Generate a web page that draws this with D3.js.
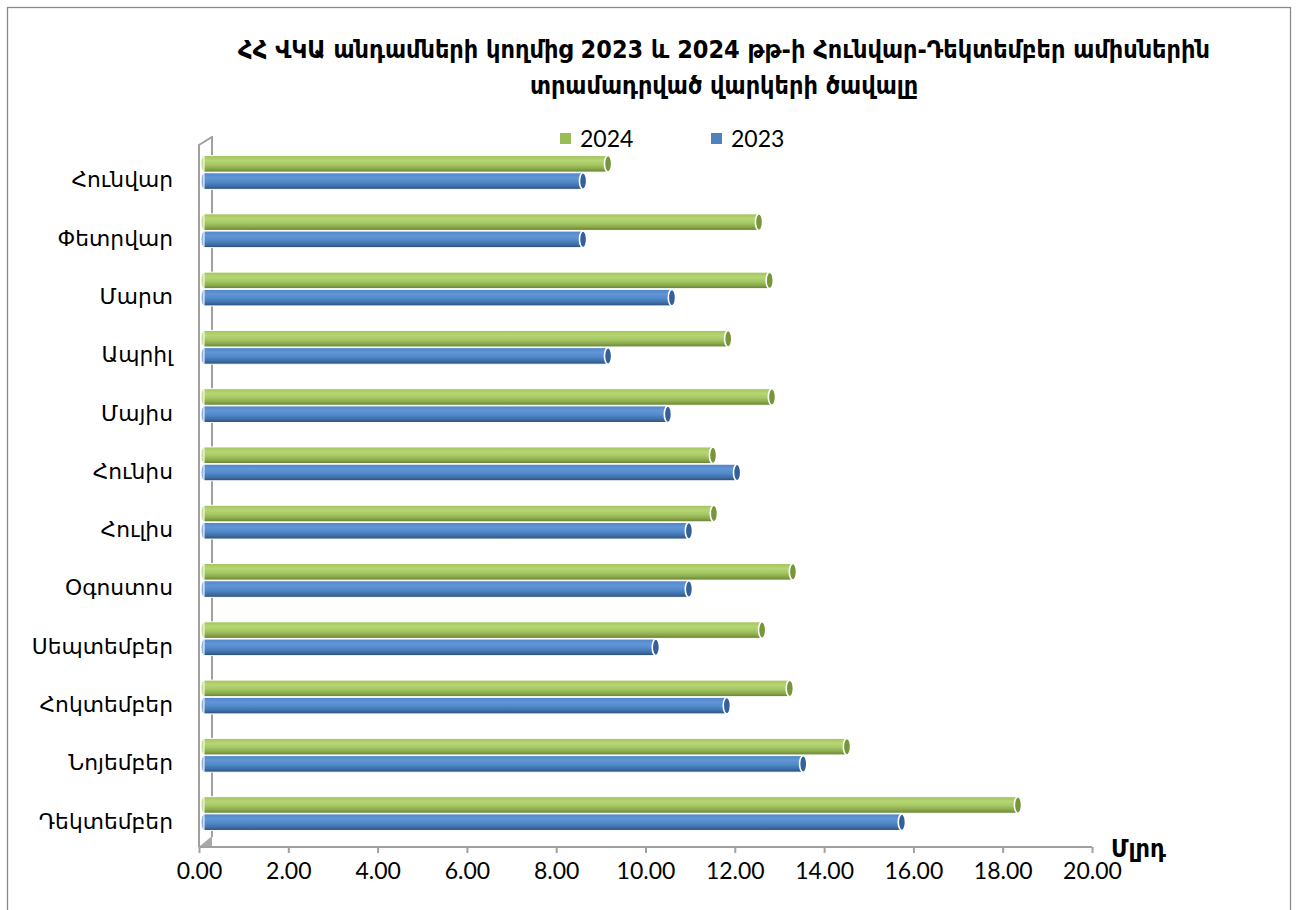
<!DOCTYPE html>
<html>
<head>
<meta charset="utf-8">
<script src="https://cdn.jsdelivr.net/npm/d3@7/dist/d3.min.js"></script>
<style>
  html, body { margin: 0; padding: 0; background: #fff; }
  svg { display: block; }
</style>
</head>
<body>
<svg id="chart" width="1296" height="910"></svg>
<script>
const months = ["Հունվար","Փետրվար","Մարտ","Ապրիլ","Մայիս","Հունիս","Հուլիս","Օգոստոս","Սեպտեմբեր","Հոկտեմբեր","Նոյեմբեր","Դեկտեմբեր"];
const series = ["2024","2023"];
const values2024 = [9.05, 12.43, 12.67, 11.74, 12.72, 11.40, 11.42, 13.19, 12.50, 13.12, 14.40, 18.23];
const values2023 = [8.49, 8.49, 10.48, 9.05, 10.39, 11.94, 10.86, 10.86, 10.12, 11.71, 13.42, 15.63];
const xTicks = [0, 2, 4, 6, 8, 10, 12, 14, 16, 18, 20];
const titleLines = ["ՀՀ ՎԿԱ անդամների կողմից 2023 և 2024 թթ-ի Հունվար-Դեկտեմբեր ամիսներին", "տրամադրված վարկերի ծավալը"];
const unitLabel = "Մլրդ";

const svg = d3.select("#chart");

// frame
svg.append("rect").attr("x", 7.5).attr("y", 7.5).attr("width", 1283).attr("height", 1000)
  .attr("fill", "none").attr("stroke", "#8a8a8a").attr("stroke-width", 1.3);

const x = d3.scaleLinear().domain([0, 20]).range([199, 1092]);
const depth = 5; // bars sit slightly behind the front axis
const y = d3.scaleBand().domain(months).range([143.3, 842.7]).paddingInner(0.42).paddingOuter(0.21);
const yi = d3.scaleBand().domain(series).range([0, y.bandwidth()]).paddingInner(0.04);

const colors = {
  "2024": { stops: ["#a3c35f", "#b6d673", "#a6c765", "#8aa84b", "#63802f"], cap: "#76963a", start: "#c4dc8e" },
  "2023": { stops: ["#4f86c9", "#6296d6", "#5189c9", "#3f6fa8", "#2b4c78"], cap: "#35609a", start: "#8fb2e0" }
};

const defs = svg.append("defs");
series.forEach(s => {
  const g = defs.append("linearGradient").attr("id", "g" + s)
    .attr("x1", 0).attr("y1", 0).attr("x2", 0).attr("y2", 1);
  const offs = [0, 0.3, 0.55, 0.8, 1];
  colors[s].stops.forEach((c, i) => g.append("stop").attr("offset", offs[i]).attr("stop-color", c));
});

// left wall (3D)
const wall = svg.append("g").attr("stroke", "#a0a0a0").attr("stroke-width", 2).attr("fill", "none");
wall.append("path").attr("d", `M199,847 L199,145 L212,137 L213,137`);
wall.append("path").attr("d", `M212,137 L212,837`);
svg.append("path").attr("d", "M200,846 L212,836 L212,846 Z").attr("fill", "#a8a8a8");

// floor / x axis
const xAxis = d3.axisBottom(x).tickValues(xTicks).tickFormat(d3.format(".2f")).tickSize(6).tickPadding(10);
const ax = svg.append("g").attr("transform", "translate(0,847)").call(xAxis);
ax.select(".domain").attr("stroke", "#a0a0a0").attr("stroke-width", 2).attr("d", "M199,0H1092");
ax.selectAll(".tick line").attr("stroke", "#a0a0a0").attr("stroke-width", 2);
ax.selectAll(".tick text").attr("font-family", "Lato, 'DejaVu Sans', sans-serif").attr("font-size", 23).attr("fill", "#000");

// bars
const data = [];
months.forEach((m, i) => {
  data.push({ m, s: "2024", v: values2024[i] });
  data.push({ m, s: "2023", v: values2023[i] });
});

const bars = svg.append("g").selectAll("g").data(data).join("g")
  .attr("transform", d => `translate(${depth},${y(d.m) + yi(d.s)})`);
const bh = yi.bandwidth();
bars.append("ellipse")
  .attr("cx", x(0)).attr("cy", bh / 2).attr("rx", 3).attr("ry", bh / 2)
  .attr("fill", d => colors[d.s].start).attr("stroke", "#fff").attr("stroke-width", 1);
bars.append("rect")
  .attr("x", x(0)).attr("y", 0)
  .attr("width", d => x(d.v) - x(0)).attr("height", bh)
  .attr("fill", d => `url(#g${d.s})`)
  .attr("stroke", "#ffffff").attr("stroke-width", 1);
bars.append("ellipse")
  .attr("cx", d => x(d.v)).attr("cy", bh / 2).attr("rx", 3.6).attr("ry", bh / 2)
  .attr("fill", d => colors[d.s].cap).attr("stroke", "#ffffff").attr("stroke-width", 1.6);

// category labels
svg.append("g").selectAll("text").data(months).join("text")
  .attr("x", 173).attr("y", d => y(d) + y.bandwidth() / 2 + 15)
  .attr("text-anchor", "end")
  .attr("font-family", "'DejaVu Sans', sans-serif").attr("font-size", 21.8).attr("fill", "#000")
  .text(d => d);

// legend
const legend = svg.append("g");
const legendItems = [{ s: "2024", x: 560 }, { s: "2023", x: 711 }];
legendItems.forEach(it => {
  legend.append("rect").attr("x", it.x).attr("y", 133).attr("width", 11).attr("height", 11)
    .attr("fill", it.s === "2024" ? "#9bbb59" : "#4f81bd");
  legend.append("text").attr("x", it.x + 20).attr("y", 147)
    .attr("font-family", "Lato, 'DejaVu Sans', sans-serif").attr("font-size", 23).attr("fill", "#000")
    .text(it.s);
});

// title
svg.append("g").selectAll("text").data(titleLines).join("text")
  .attr("x", 724).attr("y", (d, i) => 58 + i * 36)
  .attr("text-anchor", "middle")
  .attr("font-family", "'DejaVu Sans Condensed', 'DejaVu Sans', sans-serif")
  .attr("font-weight", "bold").attr("font-size", 25).attr("fill", "#000")
  .text(d => d);

// unit label
svg.append("text").attr("x", 1111).attr("y", 857)
  .attr("font-family", "'DejaVu Sans Condensed', 'DejaVu Sans', sans-serif").attr("font-weight", "bold")
  .attr("font-size", 25).attr("fill", "#000").text(unitLabel);
</script>
</body>
</html>
